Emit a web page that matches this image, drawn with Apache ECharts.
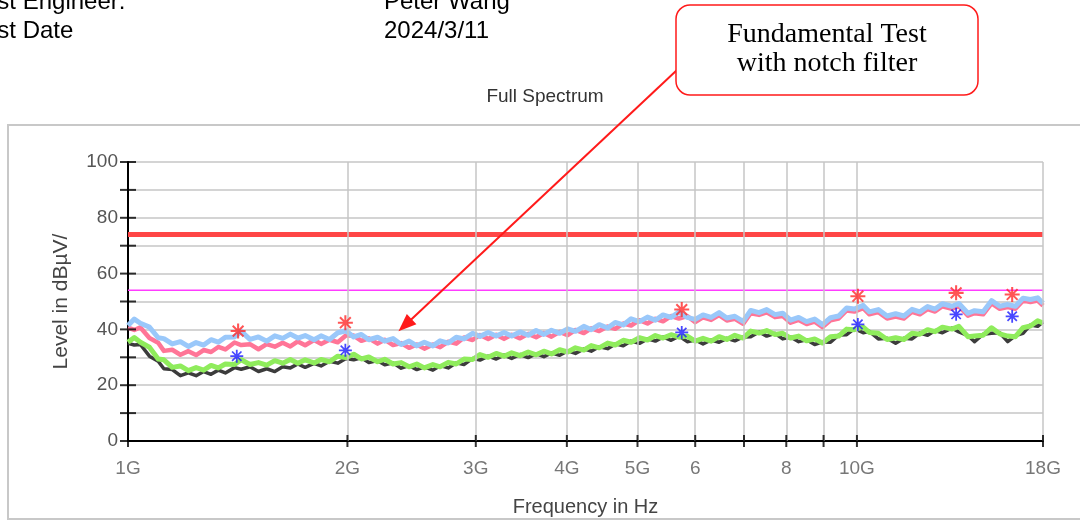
<!DOCTYPE html>
<html>
<head>
<meta charset="utf-8">
<script src="https://cdn.jsdelivr.net/npm/echarts@6/dist/echarts.min.js"></script>
<style>
  html, body { margin: 0; padding: 0; background: #fff; }
  #chart { width: 1080px; height: 522px; }
</style>
</head>
<body>
<div id="chart"></div>
<script>
// Frequency grid of the scan, in GHz
const freqGHz = [
  1.00, 1.02, 1.04, 1.07, 1.10, 1.12, 1.15, 1.18, 1.21, 1.24,
  1.27, 1.30, 1.33, 1.36, 1.40, 1.43, 1.47, 1.51, 1.55, 1.59,
  1.63, 1.67, 1.71, 1.75, 1.80, 1.84, 1.89, 1.94, 1.99, 2.04,
  2.09, 2.14, 2.20, 2.25, 2.31, 2.37, 2.43, 2.49, 2.55, 2.62,
  2.68, 2.75, 2.82, 2.89, 2.97, 3.04, 3.12, 3.20, 3.28, 3.36,
  3.45, 3.54, 3.63, 3.72, 3.81, 3.91, 4.01, 4.11, 4.22, 4.32,
  4.43, 4.55, 4.66, 4.78, 4.90, 5.03, 5.16, 5.29, 5.42, 5.56,
  5.70, 5.85, 6.00, 6.15, 6.31, 6.47, 6.63, 6.80, 6.98, 7.15,
  7.34, 7.52, 7.72, 7.91, 8.11, 8.32, 8.53, 8.75, 8.97, 9.20,
  9.44, 9.68, 9.92, 10.2, 10.4, 10.7, 11.0, 11.3, 11.6, 11.9,
  12.2, 12.5, 12.8, 13.1, 13.5, 13.8, 14.2, 14.5, 14.9, 15.3,
  15.7, 16.1, 16.5, 16.9, 17.3, 17.7, 18.0
];

// Peak detector, horizontal polarisation (dBµV)
const peakHorz = [
  41.4, 43.7, 42.2, 40.8, 37.0, 36.7, 34.8, 35.6, 33.9, 35.3,
  34.4, 36.3, 35.4, 37.2, 37.3, 39.3, 36.4, 37.3, 35.8, 37.7,
  36.8, 38.3, 36.9, 37.8, 36.3, 37.7, 36.4, 38.8, 39.5, 37.3,
  38.2, 36.3, 37.2, 35.8, 36.7, 34.6, 35.8, 34.1, 35.4, 34.1,
  35.9, 35.1, 37.2, 36.6, 38.6, 37.5, 38.9, 37.6, 38.9, 37.6,
  39.1, 37.9, 39.6, 38.2, 39.7, 38.6, 40.2, 39.3, 41.1, 39.9,
  41.7, 40.5, 42.5, 41.6, 43.8, 42.8, 44.4, 43.3, 45.2, 44.3,
  46.2, 44.3, 43.6, 45.2, 44.3, 46.0, 44.1, 44.7, 42.9, 46.8,
  46.0, 47.1, 45.3, 45.8, 43.3, 44.3, 42.8, 43.7, 41.7, 44.2,
  44.8, 47.7, 47.3, 48.6, 46.3, 47.1, 44.8, 45.6, 44.8, 47.2,
  46.3, 48.2, 47.3, 49.2, 48.3, 49.3, 45.8, 46.7, 46.3, 50.3,
  48.3, 48.9, 48.3, 51.2, 50.7, 51.3, 49.4
];

// Peak detector, vertical polarisation (dBµV)
const peakVert = [
  40.6, 39.8, 40.7, 36.9, 35.2, 32.3, 32.7, 30.9, 32.2, 30.8,
  32.6, 31.9, 33.7, 32.8, 35.3, 34.4, 34.7, 32.9, 34.7, 33.8,
  35.2, 33.9, 35.7, 34.3, 36.2, 34.8, 36.3, 35.4, 37.8, 37.8,
  35.9, 36.8, 34.9, 36.3, 34.4, 35.1, 33.4, 34.6, 33.1, 34.6,
  33.6, 35.6, 34.9, 37.1, 36.2, 38.0, 36.6, 38.1, 36.6, 38.1,
  36.8, 38.4, 37.2, 38.7, 37.4, 39.1, 37.9, 39.8, 38.7, 40.4,
  39.4, 41.0, 40.2, 42.1, 41.4, 43.3, 42.1, 43.8, 42.9, 44.8,
  43.9, 44.8, 42.6, 44.3, 43.4, 45.1, 43.2, 43.8, 42.0, 45.8,
  45.2, 46.1, 44.4, 44.8, 42.4, 43.4, 41.9, 42.8, 40.8, 43.3,
  43.9, 46.8, 46.4, 47.6, 45.4, 46.2, 43.9, 44.6, 43.9, 46.3,
  45.4, 47.3, 46.4, 48.3, 47.4, 48.3, 44.9, 45.8, 45.4, 49.3,
  47.4, 48.0, 47.4, 50.3, 49.8, 50.3, 48.5
];

// Average detector, horizontal polarisation (dBµV)
const avgHorz = [
  35.4, 37.1, 35.4, 33.6, 29.4, 29.1, 26.4, 26.9, 25.2, 26.3,
  25.4, 27.1, 26.2, 27.6, 27.4, 29.1, 27.4, 28.1, 27.2, 28.8,
  27.9, 29.2, 27.9, 29.1, 28.0, 29.2, 28.4, 30.4, 29.9, 31.1,
  29.4, 30.1, 28.4, 29.3, 27.6, 28.1, 26.6, 27.6, 26.2, 27.4,
  26.6, 28.2, 27.6, 29.4, 29.2, 31.0, 30.0, 31.4, 30.4, 31.6,
  30.6, 31.9, 30.9, 32.2, 31.2, 32.7, 31.9, 33.4, 32.6, 34.2,
  33.4, 35.1, 34.4, 36.1, 35.4, 37.0, 36.2, 37.8, 36.9, 38.1,
  37.2, 37.6, 35.8, 36.8, 35.8, 37.4, 36.4, 37.9, 36.9, 39.4,
  38.7, 39.6, 38.2, 38.6, 36.9, 37.6, 35.9, 36.6, 35.1, 37.4,
  37.6, 40.1, 39.9, 40.8, 38.9, 38.6, 36.4, 37.0, 36.4, 38.6,
  38.3, 39.9, 39.2, 40.8, 40.1, 41.1, 37.4, 37.6, 37.9, 40.6,
  38.4, 37.6, 37.4, 40.6, 41.2, 43.1, 42.3
];

// Average detector, vertical polarisation (dBµV)
const avgVert = [
  35.0, 34.4, 34.6, 30.4, 28.6, 25.9, 25.6, 23.4, 24.4, 23.4,
  24.9, 23.9, 25.4, 24.4, 26.3, 25.7, 26.6, 24.9, 25.9, 24.9,
  26.6, 26.2, 27.6, 26.4, 27.8, 26.9, 28.6, 27.9, 29.6, 29.1,
  29.8, 28.1, 28.8, 27.3, 28.0, 26.1, 27.0, 25.6, 26.6, 25.4,
  27.0, 26.2, 28.0, 27.4, 29.6, 29.0, 30.4, 29.4, 30.8, 29.6,
  31.0, 29.9, 31.3, 30.2, 31.6, 30.7, 32.3, 31.4, 33.0, 32.2,
  33.8, 33.1, 34.8, 34.1, 35.8, 35.0, 36.6, 35.8, 37.3, 36.1,
  37.6, 35.6, 36.2, 34.8, 36.2, 35.4, 36.8, 35.9, 37.3, 37.4,
  39.1, 37.6, 38.6, 36.6, 37.3, 35.6, 36.3, 34.6, 35.5, 35.4,
  38.0, 38.1, 40.3, 38.8, 39.3, 36.6, 36.8, 35.0, 36.8, 36.6,
  38.7, 37.9, 39.6, 38.8, 40.5, 39.1, 37.8, 35.6, 38.3, 38.6,
  38.8, 35.6, 37.8, 38.6, 41.6, 41.1, 42.7
];

// Limit lines (dBµV)
const peakLimit = 74;
const avgLimit = 54;

// Final measurement markers: [GHz, dBµV]
const peakMarkers = [[1.416, 39.4], [1.987, 42.4], [5.75, 47.1], [10.03, 51.9], [13.68, 53.1], [16.33, 52.5]];
const avgMarkers  = [[1.410, 30.4], [1.987, 32.5], [5.75, 38.9], [10.03, 41.8], [13.68, 45.4], [16.33, 44.7]];

// Axis ticks
const xTickValues = [1, 2, 3, 4, 5, 6, 7, 8, 9, 10, 18];
const xTickLabels = ['1G', '2G', '3G', '4G', '5G', '6', '', '8', '', '10G', '18G'];
const yTickValues = [0, 10, 20, 30, 40, 50, 60, 70, 80, 90, 100];

// Header block
const headerRows = [['Test Engineer:', 'Peter Wang'], ['Test Date', '2024/3/11']];
const calloutText = 'Fundamental Test\nwith notch filter';
const arrowTarget = [2.35, 39.3];

const SANS = '"Liberation Sans", Arial, sans-serif';
const SERIF = '"Liberation Serif", "Times New Roman", serif';

// Asterisk marker built from four thin bars
const ASTERISK = 'path://M-1.1,-8L1.1,-8L1.1,8L-1.1,8Z M-8,-1.1L8,-1.1L8,1.1L-8,1.1Z M-5,-6.5L6.5,5L5,6.5L-6.5,-5Z M5,-6.5L6.5,-5L-5,6.5L-6.5,5Z';

const pairs = (ys) => ys.map((v, i) => [freqGHz[i], v]);

const chart = echarts.init(document.getElementById('chart'), null, { renderer: 'canvas' });

const traceSeries = (data, color, width) => ({
  type: 'line',
  data: pairs(data),
  showSymbol: false,
  symbol: 'none',
  lineStyle: { color: color, width: width, join: 'round' },
  z: 3,
  silent: true
});

chart.setOption({
  animation: false,
  backgroundColor: '#fff',
  grid: { left: 128, right: 37, top: 162, bottom: 80, containLabel: false },
  xAxis: {
    type: 'log',
    logBase: 10,
    min: 1,
    max: 18,
    name: 'Frequency in Hz',
    nameLocation: 'middle',
    nameGap: 56,
    nameTextStyle: { fontFamily: SANS, fontSize: 20, color: '#444' },
    axisLine: { onZero: false, lineStyle: { color: '#000', width: 2 } },
    axisTick: { show: false },
    axisLabel: { show: false },
    splitLine: { show: false },
    minorTick: { show: false },
    minorSplitLine: { show: false }
  },
  yAxis: {
    type: 'value',
    min: 0,
    max: 100,
    interval: 10,
    name: 'Level in dBµV/',
    nameLocation: 'middle',
    nameGap: 56,
    nameTextStyle: { fontFamily: SANS, fontSize: 21, color: '#444' },
    axisLine: { show: true, onZero: false, lineStyle: { color: '#000', width: 2 } },
    axisTick: { show: false },
    axisLabel: {
      margin: 10,
      fontFamily: SANS,
      fontSize: 19,
      color: '#555',
      formatter: (v) => (v % 20 === 0 ? String(v) : '')
    },
    splitLine: { show: true, lineStyle: { color: '#c6c6c6', width: 1.5 } }
  },
  series: [
    {
      // vertical grid lines at the decade sub-divisions
      type: 'line',
      data: [],
      z: 1,
      silent: true,
      markLine: {
        silent: true,
        symbol: ['none', 'none'],
        label: { show: false },
        lineStyle: { color: '#c6c6c6', width: 1.5, type: 'solid' },
        data: xTickValues.slice(1).map((v) => ({ xAxis: v }))
      }
    },
    traceSeries(avgVert, '#3c3c3c', 3.5),
    traceSeries(avgHorz, '#8fec5c', 5),
    traceSeries(peakVert, '#ff7597', 4.5),
    traceSeries(peakHorz, '#9ac8fa', 5),
    {
      type: 'line',
      data: [[1, peakLimit], [18, peakLimit]],
      showSymbol: false,
      lineStyle: { color: '#ff4646', width: 5 },
      z: 4,
      silent: true
    },
    {
      type: 'line',
      data: [[1, avgLimit], [18, avgLimit]],
      showSymbol: false,
      lineStyle: { color: '#ff3cff', width: 1.5 },
      z: 4,
      silent: true
    },
    {
      type: 'scatter',
      data: avgMarkers,
      symbol: ASTERISK,
      symbolSize: 13,
      itemStyle: { color: '#1a1aff' },
      z: 5,
      clip: false,
      silent: true
    },
    {
      type: 'scatter',
      data: peakMarkers,
      symbol: ASTERISK,
      symbolSize: 15,
      itemStyle: { color: '#ff2a2a' },
      z: 5,
      clip: false,
      silent: true
    },
    {
      // y axis ticks crossing the axis line
      type: 'scatter',
      data: yTickValues.map((v) => [1, v]),
      symbol: 'rect',
      symbolSize: [16, 2],
      itemStyle: { color: '#000' },
      z: 6,
      clip: false,
      silent: true
    },
    {
      // x axis ticks and their labels
      type: 'scatter',
      data: xTickValues.map((v, i) => ({ value: [v, 0], name: xTickLabels[i] })),
      symbol: 'rect',
      symbolSize: [2, 12],
      itemStyle: { color: '#000' },
      z: 6,
      clip: false,
      silent: true,
      label: {
        show: true,
        position: 'bottom',
        distance: 12,
        fontFamily: SANS,
        fontSize: 19,
        color: '#555',
        formatter: (p) => p.name
      }
    }
  ]
});

// Header, title, frame and callout
const tip = chart.convertToPixel({ gridIndex: 0 }, arrowTarget);
const start = [677, 70];
const dx = tip[0] - start[0], dy = tip[1] - start[1];
const len = Math.sqrt(dx * dx + dy * dy);
const ux = dx / len, uy = dy / len;
const headLen = 18, headHalf = 7;
const base = [tip[0] - ux * headLen, tip[1] - uy * headLen];
const head = [
  [tip[0], tip[1]],
  [base[0] - uy * headHalf, base[1] + ux * headHalf],
  [base[0] + uy * headHalf, base[1] - ux * headHalf]
];

const textEl = (text, x, y, font, fill, align) => ({
  type: 'text',
  silent: true,
  style: {
    text: text, x: x, y: y, font: font, fill: fill,
    textAlign: align || 'left', align: align || 'left',
    textVerticalAlign: 'middle', verticalAlign: 'middle'
  }
});

chart.setOption({
  graphic: [
    {
      type: 'rect',
      silent: true,
      shape: { x: 8, y: 125, width: 1090, height: 394 },
      style: { fill: 'none', stroke: '#c8c8c8', lineWidth: 2 },
      z: -1
    },
    textEl(headerRows[0][0], -28, 2, '24px ' + SANS, '#000'),
    textEl(headerRows[0][1], 384, 2, '24px ' + SANS, '#000'),
    textEl(headerRows[1][0], -28, 31, '24px ' + SANS, '#000'),
    textEl(headerRows[1][1], 384, 31, '24px ' + SANS, '#000'),
    textEl('Full Spectrum', 545, 97, '19px ' + SANS, '#333', 'center'),
    {
      type: 'line',
      silent: true,
      shape: { x1: start[0], y1: start[1], x2: base[0] + ux * 2, y2: base[1] + uy * 2 },
      style: { stroke: '#ff1a1a', lineWidth: 2 },
      z: 10
    },
    {
      type: 'polygon',
      silent: true,
      shape: { points: head },
      style: { fill: '#ff1a1a' },
      z: 10
    },
    {
      type: 'rect',
      silent: true,
      shape: { x: 676, y: 5, width: 302, height: 90, r: 14 },
      style: { fill: '#fff', stroke: '#ff1a1a', lineWidth: 1.5 },
      z: 11
    },
    {
      type: 'text',
      silent: true,
      z: 12,
      style: {
        text: calloutText, x: 827, y: 49,
        font: '28px ' + SERIF, fill: '#000', lineHeight: 29,
        textAlign: 'center', align: 'center',
        textVerticalAlign: 'middle', verticalAlign: 'middle'
      }
    }
  ]
});
</script>
</body>
</html>
